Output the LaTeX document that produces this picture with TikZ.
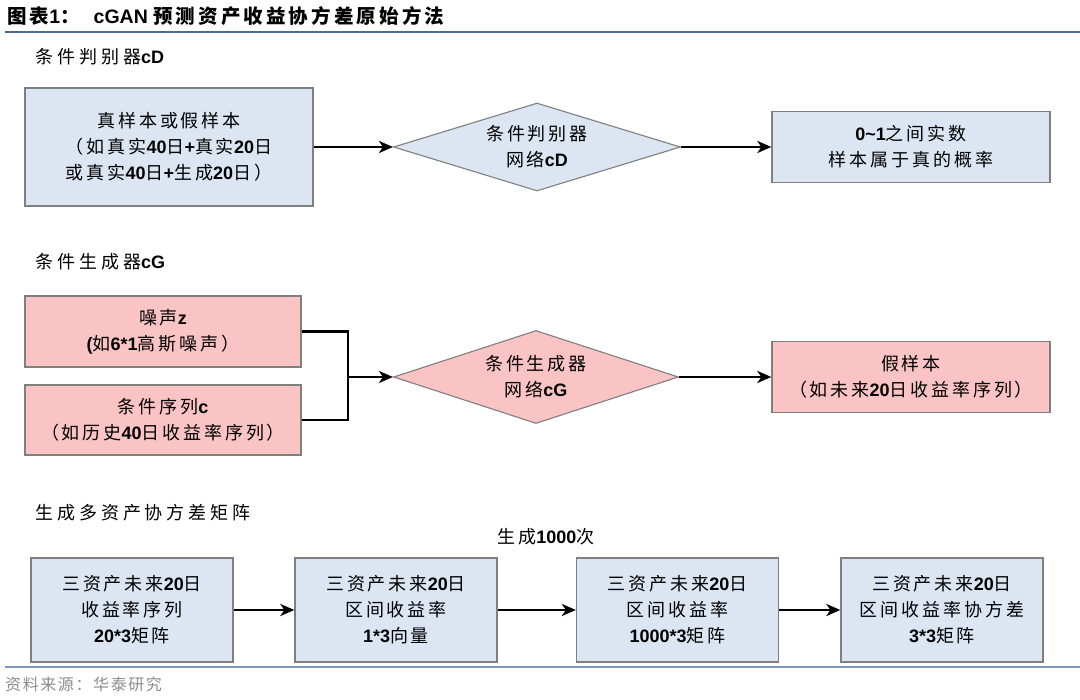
\documentclass[tikz,border=0pt]{standalone}
\usepackage{fontspec}
\setmainfont{Liberation Sans}
\newfontfamily\cjk[LetterSpace=16]{Noto Sans CJK SC}
\newfontfamily\cjks[LetterSpace=22]{Noto Sans CJK SC}
\newfontfamily\cjkt[LetterSpace=16]{Noto Sans CJK SC}
\newfontfamily\cjkf[LetterSpace=10]{Noto Sans CJK SC}
\usetikzlibrary{shapes.geometric,arrows.meta}
\newcommand\zh[1]{{\cjk #1}}
\newcommand\en[1]{{\bfseries #1}}
\definecolor{bluefill}{HTML}{DCE6F2}
\definecolor{pinkfill}{HTML}{FAC3C4}
\definecolor{bordergray}{HTML}{7F7F7F}
\definecolor{rulecol}{HTML}{4A6B96}
\definecolor{rulecolb}{HTML}{8097B8}
\tikzset{
  box/.style={draw=bordergray, line width=1.3pt, inner sep=0pt, align=center,
    font=\fontsize{18}{26}\selectfont},
  bluebox/.style={box, fill=bluefill},
  pinkbox/.style={box, fill=pinkfill},
  dia/.style={diamond, draw=bordergray, line width=1.1pt, inner sep=0pt, aspect=3.2,
    align=center, font=\fontsize{18}{26}\selectfont},
  conn/.style={line width=2.6pt, black},
  arr/.style={conn, -{Stealth[length=14pt,width=12pt,inset=4pt]}},
  seclabel/.style={anchor=west, inner sep=0pt, font=\fontsize{18}{22}\selectfont},
}
\begin{document}
\begin{tikzpicture}[x=1pt,y=-1pt]
\useasboundingbox (0,0) rectangle (1080,700);
\fill[white] (0,0) rectangle (1080,700);
% title
\node[anchor=west, inner sep=0pt, font=\fontsize{19.5}{22}\selectfont\bfseries] (title) at (7,16)
  {{\cjkt\bfseries 图表}1{\cjkt\bfseries ：}\hspace{14pt}cGAN {\cjkt\bfseries 预测资产收益协方差原始方法}};
\draw[rulecol, line width=1.6pt] (5,32) -- (1080,32);
% section 1
\node[seclabel] (s1) at (35,57) {{\cjks 条件判别器}\en{cD}};
\node[bluebox, minimum width=288pt, minimum height=118pt] (din) at (169,147)
  {\zh{真样本或假样本}\\\zh{（如真实}\en{40}\zh{日}\en{+}\zh{真实}\en{20}\zh{日}\\\zh{或真实}\en{40}\zh{日}\en{+}\zh{生成}\en{20}\zh{日）}};
\node[dia, fill=bluefill, minimum width=287pt, minimum height=88pt] (dd) at (537,147)
  {\zh{条件判别器}\\\zh{网络}\en{cD}};
\node[bluebox, minimum width=278pt, minimum height=71pt] (dout) at (911,147)
  {\en{0\textasciitilde1}\zh{之间实数}\\\zh{样本属于真的概率}};
\draw[arr] (din.east) -- (dd.west);
\draw[arr] (dd.east) -- (dout.west);
% section 2
\node[seclabel] (s2) at (35,262) {{\cjks 条件生成器}\en{cG}};
\node[pinkbox, minimum width=276pt, minimum height=71pt] (noise) at (163,331.5)
  {\zh{噪声}\en{z}\\\en{(}\zh{如}\en{6*1}\zh{高斯噪声）}};
\node[pinkbox, minimum width=276pt, minimum height=70pt] (cond) at (163,420)
  {\zh{条件序列}\en{c}\\\zh{（如历史}\en{40}\zh{日收益率序列）}};
\node[dia, fill=pinkfill, minimum width=285pt, minimum height=93pt] (dg) at (536,377)
  {\zh{条件生成器}\\\zh{网络}\en{cG}};
\node[pinkbox, minimum width=278pt, minimum height=71pt] (gout) at (911,377)
  {\zh{假样本}\\\zh{（如未来}\en{20}\zh{日收益率序列）}};
\coordinate (j) at (348,377);
\draw[conn] (noise.east) -| (j);
\draw[conn] (cond.east) -| (j);
\draw[arr] (j) -- (dg.west);
\draw[arr] (dg.east) -- (gout.west);
% section 3
\node[seclabel] (s3) at (35,513) {{\cjks 生成多资产协方差矩阵}};
\node[inner sep=0pt, font=\fontsize{18}{22}\selectfont] (times) at (546,537) {\zh{生成}\en{1000}\zh{次}};
\node[bluebox, minimum width=202pt, minimum height=104pt] (b1) at (132,610)
  {\zh{三资产未来}\en{20}\zh{日}\\\zh{收益率序列}\\\en{20*3}\zh{矩阵}};
\node[bluebox, minimum width=202pt, minimum height=104pt] (b2) at (396,610)
  {\zh{三资产未来}\en{20}\zh{日}\\\zh{区间收益率}\\\en{1*3}\zh{向量}};
\node[bluebox, minimum width=202pt, minimum height=104pt] (b3) at (677.5,610)
  {\zh{三资产未来}\en{20}\zh{日}\\\zh{区间收益率}\\\en{1000*3}\zh{矩阵}};
\node[bluebox, minimum width=202pt, minimum height=104pt] (b4) at (942,610)
  {\zh{三资产未来}\en{20}\zh{日}\\\zh{区间收益率协方差}\\\en{3*3}\zh{矩阵}};
\draw[arr] (b1.east) -- (b2.west);
\draw[arr] (b2.east) -- (b3.west);
\draw[arr] (b3.east) -- (b4.west);
% footer
\draw[rulecolb, line width=1.4pt] (5,667) -- (1080,667);
\node[anchor=west, inner sep=0pt, text=black!45, font=\fontsize{16}{20}\selectfont] (src) at (5,684)
  {{\cjkf 资料来源：华泰研究}};
\end{tikzpicture}
\end{document}
